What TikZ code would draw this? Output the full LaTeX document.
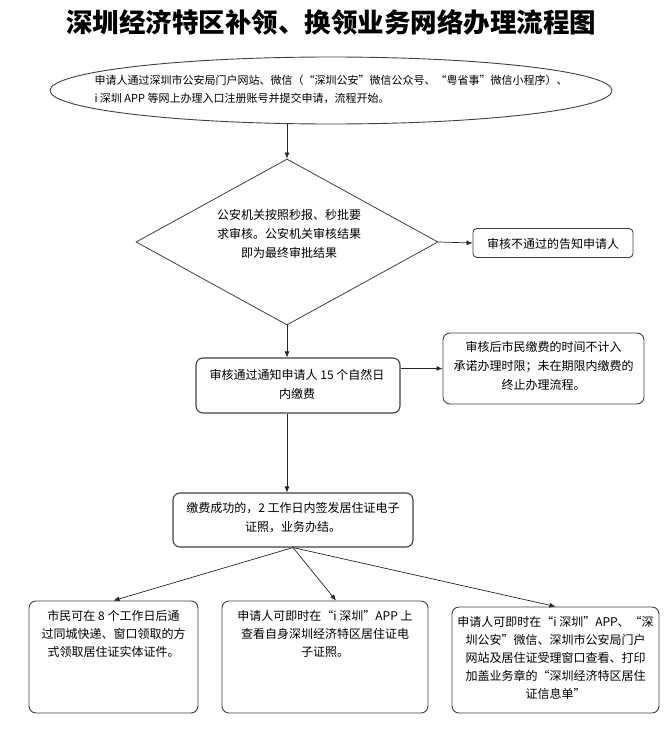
\documentclass[tikz,border=0pt]{standalone}
\usepackage{fontspec}
\setmainfont{Noto Sans CJK SC}
\usepackage{tikz}
\usetikzlibrary{shapes.geometric, arrows.meta}

\tikzset{
    box/.style={draw=black!75, line width=0.9pt, rounded corners=7pt, rectangle, inner sep=0pt},
    txt/.style={align=center, inner sep=0pt, font=\fontsize{12}{19}\selectfont},
    link/.style={->, draw=black!85, line width=0.7pt},
}

\begin{document}
\begin{tikzpicture}[x=1pt, y=-1pt, >={Latex[length=6pt,width=5pt]}]
    \useasboundingbox (0,0) rectangle (664,733);

    \node[inner sep=0pt, font=\fontsize{26.5}{26.5}\selectfont\bfseries] at (331, 22) (title) {深圳经济特区补领、换领业务网络办理流程图};

    % start
    \node[draw=black!75, line width=0.9pt, ellipse, minimum width=562pt, minimum height=67pt, inner sep=0pt] at (331, 90.5) (start) {};
    \node[txt, align=left, font=\fontsize{11}{18}\selectfont] at (331, 89) (starttxt) {申请人通过深圳市公安局门户网站、微信（“深圳公安”微信公众号、“粤省事”微信小程序）、\\i 深圳 APP 等网上办理入口注册账号并提交申请，流程开始。};

    % check
    \node[draw=black!75, line width=0.8pt, diamond, minimum width=302pt, minimum height=166pt, inner sep=0pt] at (287, 242) (check) {};
    \node[txt] at (289, 234) (checktxt) {公安机关按照秒报、秒批要\\求审核。公安机关审核结果\\即为最终审批结果};
    \node[box, rounded corners=4pt, minimum width=160pt, minimum height=29pt] at (553, 243) (reject) {};
    \node[txt] at (553, 244) (rejecttxt) {审核不通过的告知申请人};

    % pay
    \node[box, line width=1.1pt, minimum width=204pt, minimum height=55pt] at (298, 385.5) (pay) {};
    \node[txt] at (297, 384.5) (paytxt) {审核通过通知申请人 15 个自然日\\内缴费};
    \node[box, minimum width=201pt, minimum height=71pt] at (543.5, 368.5) (notice) {};
    \node[txt] at (543.5, 366) (noticetxt) {审核后市民缴费的时间不计入\\承诺办理时限；未在期限内缴费的\\终止办理流程。};

    % issue
    \node[box, line width=1.1pt, minimum width=240pt, minimum height=54pt] at (293, 520) (issue) {};
    \node[txt] at (293, 517.5) (issuetxt) {缴费成功的，2 工作日内签发居住证电子\\证照，业务办结。};

    % results
    \node[box, minimum width=169pt, minimum height=112pt] at (113.5, 657) (mail) {};
    \node[txt, anchor=north, font=\fontsize{12}{18}\selectfont] at ([yshift=-10pt]mail.north) (mailtxt) {市民可在 8 个工作日后通\\过同城快递、窗口领取的方\\式领取居住证实体证件。};
    \node[box, minimum width=206pt, minimum height=112pt] at (325, 657) (app) {};
    \node[txt, anchor=north, font=\fontsize{12}{18}\selectfont] at ([yshift=-10pt]app.north) (apptxt) {申请人可即时在“i 深圳”APP 上\\查看自身深圳经济特区居住证电\\子证照。};
    \node[box, minimum width=207pt, minimum height=106pt] at (555.5, 660) (print) {};
    \node[txt, anchor=north, font=\fontsize{12}{18}\selectfont] at ([yshift=-10pt]print.north) (printtxt) {申请人可即时在“i 深圳”APP、“深\\圳公安”微信、深圳市公安局门户\\网站及居住证受理窗口查看、打印\\加盖业务章的“深圳经济特区居住\\证信息单”};

    \draw[link] (check.north |- start.south) -- (check.north);
    \draw[link] (check.east) -- (reject.west);
    \draw[link] (check.south) -- (check.south |- pay.north);
    \draw[link] (pay.east |- notice.west) -- (notice.west);
    \draw[link] (pay.south -| check.south) -- (issue.north -| check.south);
    \draw[link] (issue.south) -- (mail.north);
    \draw[link] (issue.south) -- ([xshift=11pt]app.north);
    \draw[link] (issue.south) -- (print.north);
\end{tikzpicture}
\end{document}
